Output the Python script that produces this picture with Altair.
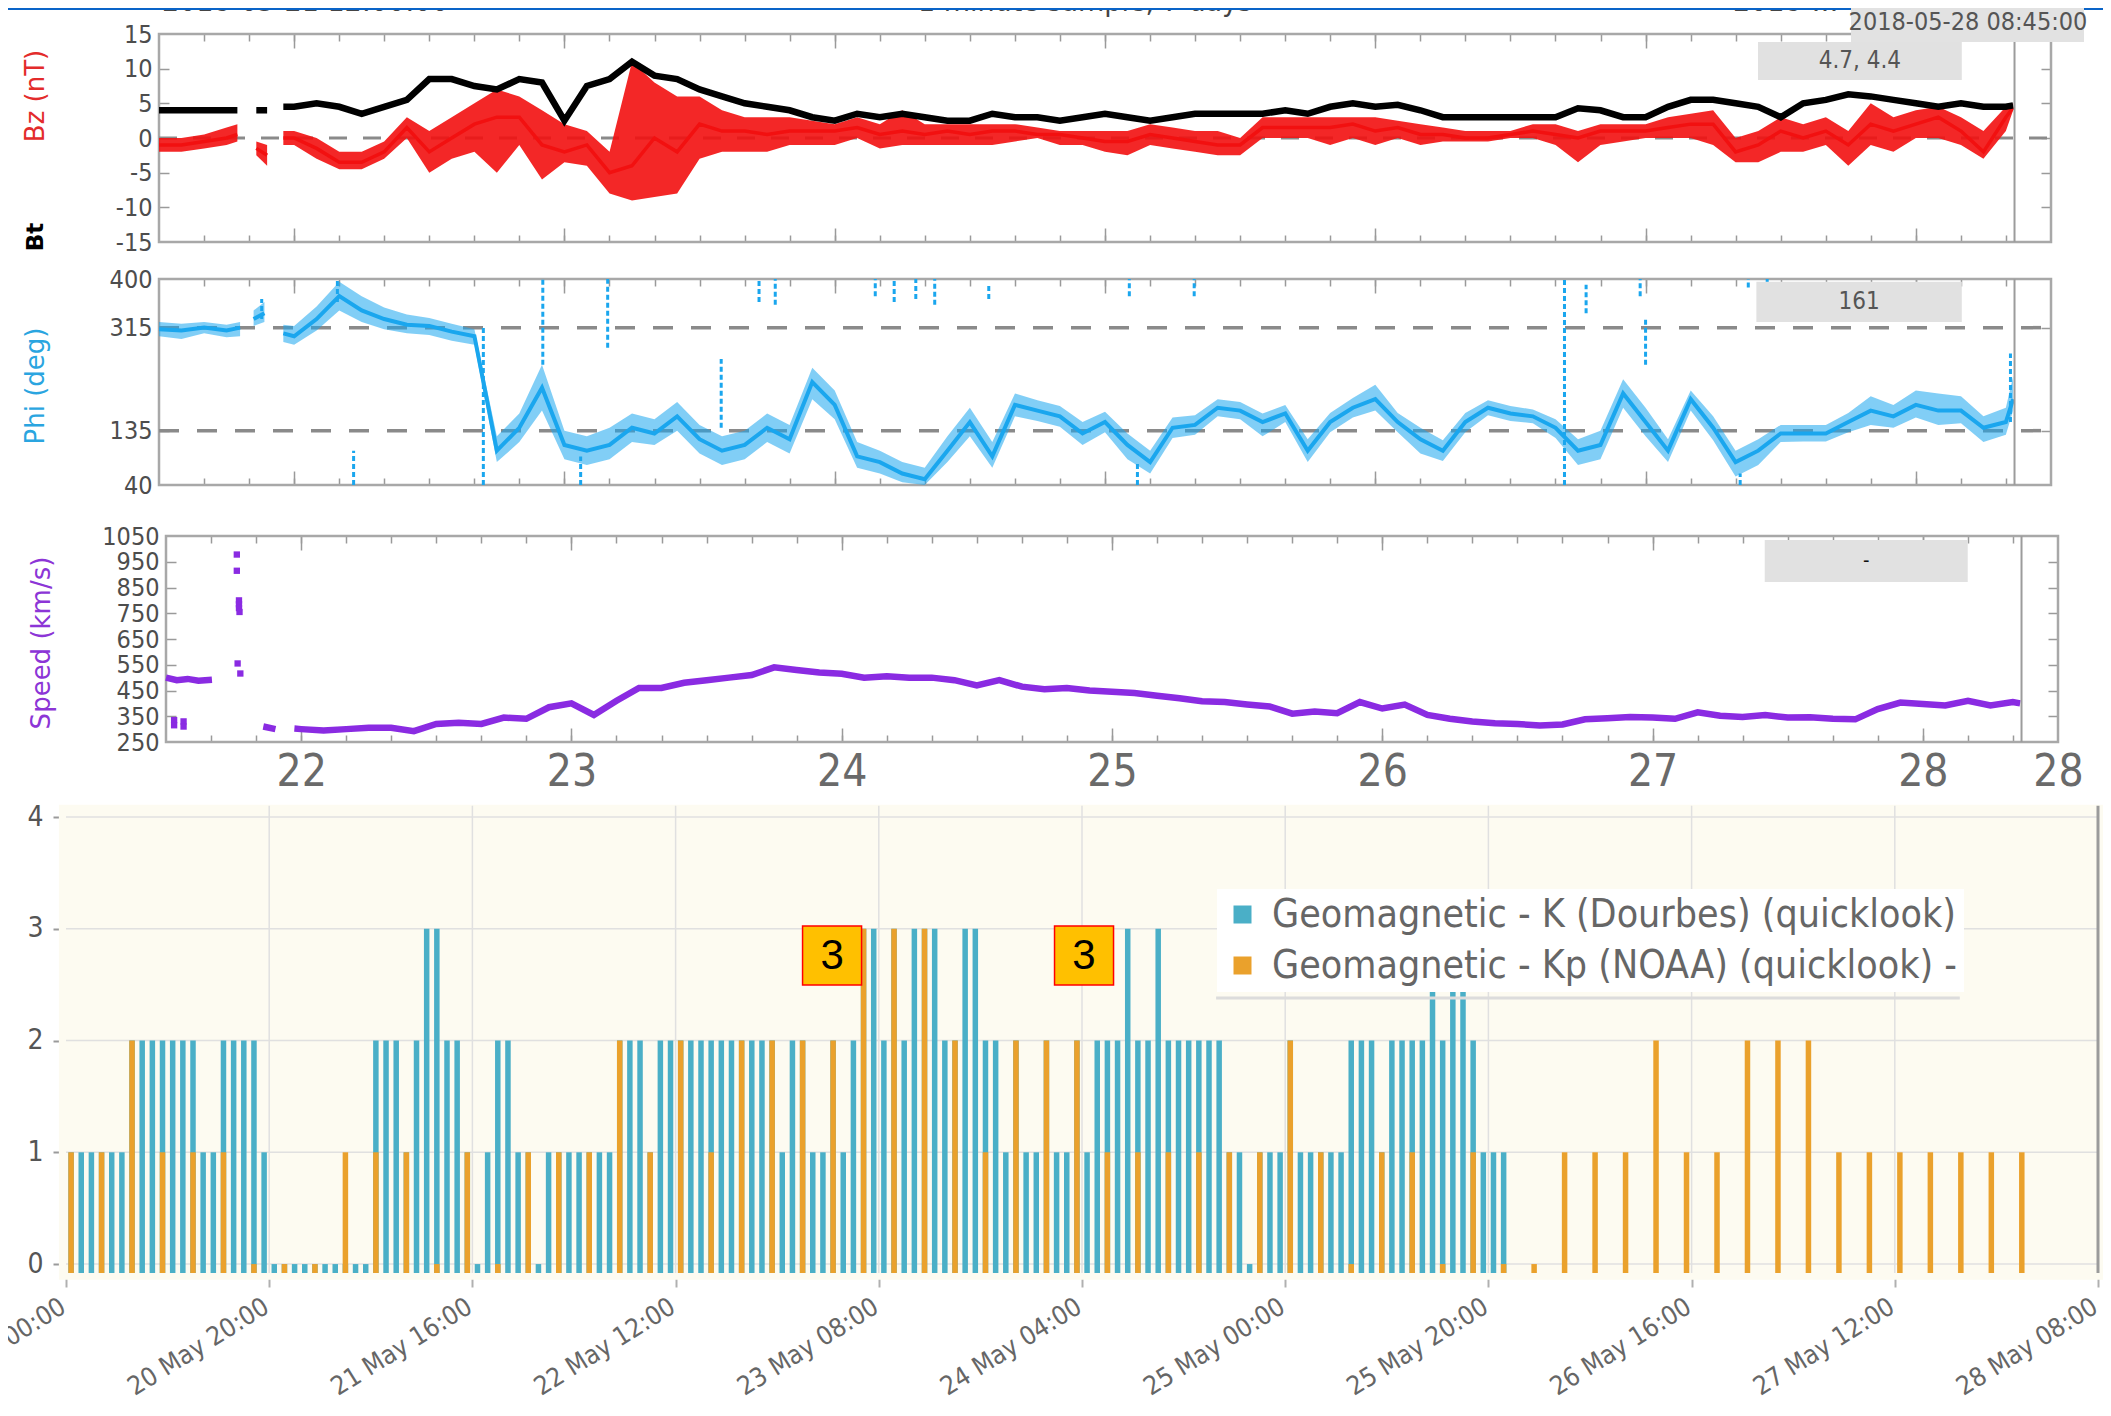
import json
import altair as alt
import pandas as pd

W, H = 2095, 1400
NARROW = "Liberation Sans Narrow, DejaVu Sans Condensed, Arial Narrow, sans-serif"
COND = "DejaVu Sans Condensed, Liberation Sans Narrow, sans-serif"
SANS = "DejaVu Sans, Verdana, sans-serif"

# ---------------- solar wind panels (time = day of May 2018) ----------------
GRID_2H = [round(22 + i / 12, 3) for i in range(77)]      # 22 May 00:00 ... 28 May 08:00 every 2 h
END_T = 28.36
TOP_DAY_TICKS = [22, 23, 24, 25, 26, 27, 28]
TOP_MINOR_TICKS = [round(21.5 + i / 6, 4) for i in range(1, 42)]
SPEED_X_LABEL_AT = [22, 23, 24, 25, 26, 27, 28, 28.5]
NOW_DAY = 28.365

# Bz / Bt (nT)
BZ_EARLY_T = [21.5, 21.583, 21.667, 21.75, 21.79, None, 21.86, 21.9, None, 21.96]
BZ_EARLY_MID = [-1, -1, -0.5, 0, 0.5, None, -1.5, -2.5, None, 0]
BZ_EARLY_LO = [-2, -2, -1.5, -1, -0.5, None, -2.5, -4, None, -1]
BZ_EARLY_HI = [0, 0, 0.5, 1.5, 2, None, -0.5, -1, None, 1]
BT_EARLY = [4, 4, 4, 4, 4, None, 4, 4, None, 4.5]
BZ_MID = [
    0, -1.5, -3.5, -3.5, -2, 1.5, -2, 0, 2, 3, 3, -1,
    -2, -1, -5, -4, 0, -2, 2, 1, 1, 0.5, 1, 1,
    1, 1.5, 0.5, 1, 0.5, 1, 0.5, 1, 1, 0.5, 0.5, 0,
    -0.5, -0.5, 0.5, 0, -0.5, -1, -1, 1.5, 1.5, 1.5, 1.5, 2,
    1, 1.5, 0.5, 0.5, 0, 0, 0.5, 1, 0.5, 0, 1, 1,
    1, 1.5, 2, 2, -2, -1, 1, 0, 1, -1, 2, 1,
    2, 3, 1, -2, 3]
BZ_LO = [
    -1, -3, -4.5, -4.5, -3, 0, -5, -3, -2, -5, -1, -6,
    -3.5, -4, -8, -9, -8.5, -8, -3, -2, -2, -2, -1, -1,
    -1, 0, -1.5, -1, -1, -1, -1, -1, -0.5, 0, -1, -1,
    -2, -2.5, -1, -1.5, -2, -2.5, -2.5, 0, 0, 0, -1, 0,
    -1, 0, -1, -0.5, -0.5, -0.5, 0, 0, -1, -3.5, -1, -0.5,
    0, 0, 0, -1, -3.5, -3.5, -2, -2, -1, -4, -1, -2,
    0, 0, -1, -3, 1]
BZ_HI = [
    1, 0, -2, -2, -0.5, 3, 1, 3, 5, 7, 6, 4,
    2, 1, -2, 11, 8, 6, 6, 4, 3, 3, 3, 2.5,
    2, 3, 2, 4, 2, 2, 2, 2, 2, 1.5, 1, 1,
    1, 1, 2, 1.5, 1, 1, 0, 3, 3, 3, 3, 3,
    3, 2.5, 2, 1.5, 1, 1, 1, 2, 2, 1, 2, 2,
    2, 3, 3.5, 4, 0, 1, 3, 2, 3, 1, 5, 3,
    4, 4.5, 3, 1, 4.5]
BT = [
    4.5, 5, 4.5, 3.5, 4.5, 5.5, 8.5, 8.5, 7.5, 7, 8.5, 8,
    2.5, 7.5, 8.5, 11, 9, 8.5, 7, 6, 5, 4.5, 4, 3,
    2.5, 3.5, 3, 3.5, 3, 2.5, 2.5, 3.5, 3, 3, 2.5, 3,
    3.5, 3, 2.5, 3, 3.5, 3.5, 3.5, 3.5, 4, 3.5, 4.5, 5,
    4.5, 4.8, 4, 3, 3, 3, 3, 3, 3, 4.3, 4, 3,
    3, 4.5, 5.5, 5.5, 5, 4.5, 3, 5, 5.5, 6.3, 6, 5.5,
    5, 4.5, 5, 4.5, 4.5]
BZ_END, BZ_END_LO, BZ_END_HI, BT_END = 4.4, 4.0, 5.0, 4.7
BZ_READOUT = "4.7, 4.4"

# Phi (deg)
PHI_EARLY_T = [21.5, 21.583, 21.667, 21.75, 21.8, None, 21.85, 21.89, None, 21.96]
PHI_EARLY = [312, 310, 315, 310, 315, None, 330, 340, None, 305]
PHI_EARLY_LO = [300, 295, 305, 298, 300, None, 318, 325, None, 290]
PHI_EARLY_HI = [325, 322, 325, 320, 325, None, 345, 360, None, 320]
PHI = [
    300, 330, 370, 345, 330, 320, 318, 308, 300, 100, 140, 210,
    110, 100, 110, 140, 130, 160, 120, 100, 110, 140, 120, 220,
    180, 90, 80, 60, 50, 100, 150, 90, 180, 170, 160, 130,
    150, 110, 80, 140, 145, 175, 170, 150, 165, 100, 150, 175,
    190, 150, 120, 100, 150, 175, 165, 160, 140, 100, 110, 200,
    150, 100, 190, 140, 80, 100, 130, 130, 130, 150, 170, 160,
    180, 170, 170, 140, 150]
PHI_LO = [
    285, 310, 345, 325, 312, 305, 302, 292, 285, 80, 115, 170,
    85, 75, 85, 115, 110, 135, 95, 75, 85, 115, 95, 190,
    155, 70, 60, 45, 40, 80, 125, 70, 160, 152, 142, 110,
    132, 85, 60, 122, 128, 160, 155, 125, 150, 80, 132, 158,
    170, 132, 95, 82, 132, 162, 152, 148, 122, 75, 85, 175,
    125, 80, 170, 118, 55, 75, 115, 116, 116, 132, 145, 140,
    158, 145, 148, 115, 128]
PHI_HI = [
    318, 352, 395, 370, 350, 338, 332, 322, 312, 125, 165, 250,
    135, 125, 140, 165, 155, 185, 145, 125, 135, 165, 145, 245,
    205, 115, 100, 80, 70, 125, 175, 115, 200, 188, 178, 150,
    168, 130, 100, 158, 162, 190, 185, 165, 180, 120, 166, 192,
    215, 166, 140, 118, 166, 188, 178, 172, 155, 120, 135, 225,
    175, 120, 205, 160, 100, 120, 145, 145, 145, 166, 195, 180,
    205, 200, 195, 160, 175]
PHI_END, PHI_END_LO, PHI_END_HI = 190, 170, 230
PHI_STREAK_T = [21.88, 22.16, 22.22, 22.7, 22.92, 23.06, 23.16, 23.58, 23.72, 23.78, 24.15, 24.22, 24.3,
                24.37, 24.57, 25.09, 25.12, 25.33, 26.7, 26.78, 26.98, 27.0, 27.35, 27.38, 27.45, 28.35]
PHI_STREAK_LO = [330, 360, 40, 40, 250, 40, 280, 140, 360, 355, 370, 360, 365,
                 355, 365, 370, 40, 370, 40, 340, 370, 250, 40, 385, 380, 150]
PHI_STREAK_HI = [365, 400, 100, 315, 400, 90, 400, 260, 400, 400, 400, 400, 400,
                 400, 390, 400, 80, 400, 400, 390, 400, 330, 60, 400, 400, 270]
PHI_READOUT = "161"

# Speed (km/s)
SPD_EARLY_T = [21.5, 21.54, 21.58, 21.62, 21.67, None, 21.86, 21.905, None, 21.975]
SPD_EARLY = [500, 490, 495, 488, 492, None, 310, 300, None, 302]
SPD = [
    300, 295, 300, 305, 305, 292, 320, 325, 320, 345, 340, 385,
    400, 355, 410, 460, 460, 480, 490, 500, 510, 540, 530, 520,
    515, 500, 505, 500, 500, 490, 470, 490, 465, 455, 460, 450,
    445, 440, 430, 420, 408, 405, 396, 388, 360, 368, 362, 405,
    380, 395, 355, 340, 330, 323, 320, 314, 318, 338, 342, 347,
    345, 340, 365, 352, 347, 355, 345, 346, 340, 338, 378, 403,
    398, 392, 410, 392, 405]
SPD_END = 400
SPD_PT_T = [21.53, 21.53, 21.565, 21.565, 21.762, 21.762, 21.77, 21.77, 21.77, 21.772, 21.765, 21.775]
SPD_PT_V = [335, 315, 330, 310, 978, 915, 800, 785, 770, 755, 555, 516]
SPD_READOUT = "-"

# ---------------- geomagnetic indices (hours since 20 May 00:00) ----------------
K_LABEL = "Geomagnetic - K (Dourbes) (quicklook)"
KP_LABEL = "Geomagnetic - Kp (NOAA) (quicklook) -"
K_DOURBES = [
    1, 1, 1, 1, 1, 1, 2, 2, 2, 2, 2, 2,
    2, 1, 1, 2, 2, 2, 2, 1, 0, 0, 0, 0,
    0, 0, 0, 0, 0, 0, 2, 2, 2, 1, 2, 3,
    3, 2, 2, 1, 0, 1, 2, 2, 1, 1, 0, 1,
    1, 1, 1, 1, 1, 1, 2, 2, 2, 1, 2, 2,
    2, 2, 2, 2, 2, 2, 2, 2, 2, 2, 1, 2,
    2, 1, 1, 2, 1, 2, 3, 3, 2, 3, 2, 3,
    3, 3, 2, 2, 3, 3, 2, 2, 1, 2, 1, 1,
    2, 1, 1, 2, 1, 2, 2, 2, 3, 2, 2, 3,
    2, 2, 2, 2, 2, 2, 1, 1, 0, 1, 1, 1,
    2, 1, 1, 1, 1, 1, 2, 2, 2, 1, 2, 2,
    2, 2, 3, 2, 3, 3, 2, 1, 1, 1]
K_NOAA = [  # every 3 hours
    1, 1, 2, 1, 1, 1, 0, 0, 0, 1, 1, 1,
    0, 1, 0, 1, 1, 1, 2, 1, 2, 1, 2, 2,
    2, 2, 3, 3, 3, 2, 1, 2, 2, 2, 1, 1,
    1, 1, 1, 1, 2, 1, 0, 1, 1, 0, 1, 0,
    0, 1, 1, 1, 2, 1, 1, 2, 2, 2, 1, 1,
    1, 1, 1, 1, 1]
K_TICK_HOURS = [0, 20, 40, 60, 80, 100, 120, 140, 160, 180, 200]
K_TICK_LABELS = ["20 May 00:00", "20 May 20:00", "21 May 16:00", "22 May 12:00", "23 May 08:00",
                 "24 May 04:00", "25 May 00:00", "25 May 20:00", "26 May 16:00", "27 May 12:00",
                 "28 May 08:00"]
K_Y_TICKS = [0, 1, 2, 3, 4]
ANN_H = [75.4, 100.2]
ANN_V = [2.76, 2.76]
ANN_TXT = ["3", "3"]

# ---------------- colours ----------------
BZ_RED = "#f21010"
PHI_BLUE = "#1aa6ee"
SPD_PURPLE = "#8a2be2"
TEAL = "#4aafc7"
ORANGE = "#eaa12c"
TICK_C = "#9a9a9a"

# ---------------- scales (pixel ranges inside the single canvas) ----------------
X_TOP = alt.Scale(domain=[21.5, 28.5], range=[151, 2043], nice=False, zero=False)
X_SPD = alt.Scale(domain=[21.5, 28.5], range=[158, 2050], nice=False, zero=False)
Y_BZ = alt.Scale(domain=[-15, 15], range=[234, 26], nice=False, zero=False)
Y_PHI = alt.Scale(domain=[40, 400], range=[477, 271], nice=False, zero=False)
Y_SPD = alt.Scale(domain=[250, 1050], range=[734, 528], nice=False, zero=False)
X_K = alt.Scale(domain=[0, 200], range=[53, 2095], nice=False, zero=False)
Y_K_MIN = -0.08
Y_K = alt.Scale(domain=[Y_K_MIN, 4], range=[1265, 809], nice=False, zero=False)

ONE = pd.DataFrame({"_": [0]})


def seg_df(t_list, **cols):
    rows, seg = [], 0
    for i, tv in enumerate(t_list):
        if tv is None:
            seg += 1
            continue
        row = {"t": tv, "seg": seg}
        for name, vals in cols.items():
            row[name] = vals[i]
        rows.append(row)
    return pd.DataFrame(rows)


def one_row(**kw):
    return pd.DataFrame({k: [v] for k, v in kw.items()})


def qx(field, sc, ax=None):
    return alt.X(field, type="quantitative", scale=sc, axis=ax)


def qy(field, sc, ax=None):
    return alt.Y(field, type="quantitative", scale=sc, axis=ax, stack=None)


def frame_layer(xs, ys, x0, x1, y0, y1, color="#a8a8a8", width=2.5):
    return alt.Chart(one_row(x0=x0, x1=x1, y0=y0, y1=y1)).mark_rect(
        fillOpacity=0, stroke=color, strokeWidth=width).encode(
        x=qx("x0", xs), x2="x1:Q", y=qy("y0", ys), y2="y1:Q")


def hrule(xs, ys, x0, x1, yvals, **mk):
    d = pd.DataFrame({"x0": [x0] * len(yvals), "x1": [x1] * len(yvals), "y": yvals})
    return alt.Chart(d).mark_rule(**mk).encode(x=qx("x0", xs), x2="x1:Q", y=qy("y", ys))


def vrule(xs, ys, xvals, y0, y1, **mk):
    d = pd.DataFrame({"x": xvals, "y0": [y0] * len(xvals), "y1": [y1] * len(xvals)})
    return alt.Chart(d).mark_rule(**mk).encode(x=qx("x", xs), y=qy("y0", ys), y2="y1:Q")


def readout(xs, ys, x0, x1, y0, y1, txt, size=24, color="#555555"):
    box = alt.Chart(one_row(x0=x0, x1=x1, y0=y0, y1=y1)).mark_rect(
        fill="#e1e1e1", strokeWidth=0).encode(x=qx("x0", xs), x2="x1:Q", y=qy("y0", ys), y2="y1:Q")
    txt_l = alt.Chart(one_row(x=(x0 + x1) / 2, y=(y0 + y1) / 2, s=txt)).mark_text(
        fontSize=size, font=NARROW, color=color).encode(x=qx("x", xs), y=qy("y", ys), text="s:N")
    return [box, txt_l]


def tick_axis(orient, offset, values, size):
    return alt.Axis(orient=orient, offset=offset, values=values, ticks=True, tickSize=size,
                    tickColor=TICK_C, tickWidth=1.5, labels=False, domain=False, grid=False, title=None)


def frame_axes(xs, ys, xdom0, ydom0, left, right, top, bottom, ylabel_vals, ytick_vals):
    d = one_row(cx=xdom0, cy=ydom0)

    def car(xa, ya):
        return alt.Chart(d).mark_point(opacity=0).encode(x=qx("cx", xs, xa), y=qy("cy", ys, ya))

    lab = alt.Axis(orient="left", offset=-left, values=ylabel_vals, ticks=False, tickSize=0,
                   domain=False, grid=False, title=None, labelFont=NARROW, labelFontSize=25,
                   labelColor="#4d4d4d", labelPadding=7, labelExpr="'' + datum.value",
                   labelOverlap=False)
    return [
        car(tick_axis("bottom", top - H, TOP_MINOR_TICKS, 7), lab),
        car(tick_axis("bottom", top - H, TOP_DAY_TICKS, 14), tick_axis("right", left - W, ytick_vals, 10)),
        car(tick_axis("top", -bottom, TOP_MINOR_TICKS, 7), tick_axis("left", -right, ytick_vals, 10)),
        car(tick_axis("top", -bottom, TOP_DAY_TICKS, 14), None),
    ]


# ---------------- Bz / Bt panel ----------------
bz_df = seg_df(BZ_EARLY_T + GRID_2H + [END_T],
               v=BZ_EARLY_MID + BZ_MID + [BZ_END],
               lo=BZ_EARLY_LO + BZ_LO + [BZ_END_LO],
               hi=BZ_EARLY_HI + BZ_HI + [BZ_END_HI])
bt_df = seg_df(BZ_EARLY_T + GRID_2H + [END_T], v=BT_EARLY + BT + [BT_END])

bz_panel = alt.layer(
    frame_layer(X_TOP, Y_BZ, 21.5, 28.5, -15, 15),
    hrule(X_TOP, Y_BZ, 21.5, 28.5, [0], color="#8a8a8a", strokeWidth=3, strokeDash=[18, 16]),
    alt.Chart(bz_df).mark_area(color=BZ_RED, opacity=0.9).encode(
        x=qx("t", X_TOP), y=qy("lo", Y_BZ), y2="hi:Q", detail="seg:N"),
    alt.Chart(bz_df).mark_line(color=BZ_RED, strokeWidth=3.5).encode(
        x=qx("t", X_TOP), y=qy("v", Y_BZ), detail="seg:N"),
    alt.Chart(bt_df).mark_line(color="black", strokeWidth=6.5).encode(
        x=qx("t", X_TOP), y=qy("v", Y_BZ), detail="seg:N"),
    vrule(X_TOP, Y_BZ, [NOW_DAY], -15, 15, color="#9c9c9c", strokeWidth=2),
    *readout(X_TOP, Y_BZ, 27.416, 28.17, 8.37, 13.85, BZ_READOUT),
    *frame_axes(X_TOP, Y_BZ, 21.5, -15, 151, 2043, 26, 234,
                [15, 10, 5, 0, -5, -10, -15], [10, 5, 0, -5, -10]),
).resolve_axis(x="independent", y="independent")

# ---------------- Phi panel ----------------
phi_df = seg_df(PHI_EARLY_T + GRID_2H + [END_T],
                v=PHI_EARLY + PHI + [PHI_END],
                lo=PHI_EARLY_LO + PHI_LO + [PHI_END_LO],
                hi=PHI_EARLY_HI + PHI_HI + [PHI_END_HI])
phi_streak_df = pd.DataFrame({"t": PHI_STREAK_T, "lo": PHI_STREAK_LO, "hi": PHI_STREAK_HI})

phi_panel = alt.layer(
    frame_layer(X_TOP, Y_PHI, 21.5, 28.5, 40, 400),
    hrule(X_TOP, Y_PHI, 21.5, 28.5, [315, 135], color="#8a8a8a", strokeWidth=3.5, strokeDash=[20, 18]),
    alt.Chart(phi_df).mark_area(color=PHI_BLUE, opacity=0.55).encode(
        x=qx("t", X_TOP), y=qy("lo", Y_PHI), y2="hi:Q", detail="seg:N"),
    alt.Chart(phi_df).mark_line(color=PHI_BLUE, strokeWidth=4).encode(
        x=qx("t", X_TOP), y=qy("v", Y_PHI), detail="seg:N"),
    alt.Chart(phi_streak_df).mark_rule(color=PHI_BLUE, strokeWidth=3, strokeDash=[5, 3]).encode(
        x=qx("t", X_TOP), y=qy("lo", Y_PHI), y2="hi:Q"),
    vrule(X_TOP, Y_PHI, [NOW_DAY], 40, 400, color="#9c9c9c", strokeWidth=2),
    *readout(X_TOP, Y_PHI, 27.41, 28.17, 325, 395, PHI_READOUT),
    *frame_axes(X_TOP, Y_PHI, 21.5, 40, 151, 2043, 271, 477, [400, 315, 135, 40], [315, 135]),
).resolve_axis(x="independent", y="independent")

# ---------------- Speed panel ----------------
spd_df = seg_df(SPD_EARLY_T + GRID_2H + [END_T], v=SPD_EARLY + SPD + [SPD_END])
spd_pt_df = pd.DataFrame({"t": SPD_PT_T, "v": SPD_PT_V})
spd_xlab = alt.Axis(orient="bottom", offset=734 - H, values=SPEED_X_LABEL_AT, ticks=False, tickSize=0,
                    domain=False, grid=False, title=None, labelExpr="'' + floor(datum.value)",
                    labelFont=NARROW, labelFontSize=44, labelColor="#6a6a6a", labelPadding=8,
                    labelFlush=False, labelOverlap=False)

spd_panel = alt.layer(
    frame_layer(X_SPD, Y_SPD, 21.5, 28.5, 250, 1050),
    alt.Chart(spd_df).mark_line(color=SPD_PURPLE, strokeWidth=6.5).encode(
        x=qx("t", X_SPD), y=qy("v", Y_SPD), detail="seg:N"),
    alt.Chart(spd_pt_df).mark_square(color=SPD_PURPLE, size=40, opacity=1).encode(
        x=qx("t", X_SPD), y=qy("v", Y_SPD)),
    vrule(X_SPD, Y_SPD, [NOW_DAY], 250, 1050, color="#9c9c9c", strokeWidth=2),
    *readout(X_SPD, Y_SPD, 27.415, 28.166, 871, 1034, SPD_READOUT, size=20, color="#111111"),
    *frame_axes(X_SPD, Y_SPD, 21.5, 250, 158, 2050, 528, 734,
                [1050, 950, 850, 750, 650, 550, 450, 350, 250], [950, 850, 750, 650, 550, 450, 350]),
    alt.Chart(one_row(cx=21.5, cy=250)).mark_point(opacity=0).encode(
        x=qx("cx", X_SPD, spd_xlab), y=qy("cy", Y_SPD)),
).resolve_axis(x="independent", y="independent")

# ---------------- K index bar chart ----------------
teal_df = pd.DataFrame({"x": [k + 0.5 for k in range(len(K_DOURBES))], "v": K_DOURBES,
                        "series": [K_LABEL] * len(K_DOURBES)})
orange_df = pd.DataFrame({"x": [3 * i + 0.5 for i in range(len(K_NOAA))], "v": K_NOAA,
                          "series": [KP_LABEL] * len(K_NOAA)})
ann_df = pd.DataFrame({"h": ANN_H, "v": ANN_V, "s": ANN_TXT})

color_enc = alt.Color("series:N", scale=alt.Scale(domain=[K_LABEL, KP_LABEL], range=[TEAL, ORANGE]),
                      legend=alt.Legend(orient="none", legendX=1209, legendY=881, title=None,
                                        symbolType="square", symbolSize=324, symbolStrokeWidth=0,
                                        labelFont=COND, labelFontSize=39, labelColor="#666666",
                                        labelLimit=2000, rowPadding=11, labelOffset=10, padding=6,
                                        fillColor="white"))
k_xaxis = alt.Axis(orient="bottom", offset=1267 - H, values=K_TICK_HOURS, tickSize=12, tickColor="#b0b0b0",
                   tickWidth=2, domain=True, domainColor="#a9a9a9", domainWidth=3, grid=False, title=None,
                   labelExpr=json.dumps(K_TICK_LABELS) + "[round(datum.value / 20)]",
                   labelAngle=328, labelAlign="right", labelBaseline="top", labelPadding=6,
                   labelOffset=-10, labelFont=COND, labelFontSize=26, labelColor="#666666",
                   labelOverlap=False, labelFlush=False)
k_yaxis = alt.Axis(orient="left", offset=-53, values=K_Y_TICKS, tickSize=8, tickColor="#9a9a9a",
                   tickWidth=2, domain=True, domainColor="#9a9a9a", domainWidth=2, grid=False, title=None,
                   labelFont=COND, labelFontSize=28, labelColor="#555555", labelPadding=10)

k_panel = alt.layer(
    alt.Chart(one_row(x0=-0.7, x1=201, y0=-0.14, y1=4.11)).mark_rect(fill="#fdfbf1", strokeWidth=0).encode(
        x=qx("x0", X_K), x2="x1:Q", y=qy("y0", Y_K), y2="y1:Q"),
    hrule(X_K, Y_K, 0, 200, K_Y_TICKS, color="#e0e0e0", strokeWidth=1.5),
    vrule(X_K, Y_K, K_TICK_HOURS[1:-1], Y_K_MIN, 4.1, color="#e0e0e0", strokeWidth=1.5),
    alt.Chart(teal_df).mark_bar(size=5.5).encode(
        x=qx("x", X_K), y=qy("v", Y_K), y2=alt.datum(Y_K_MIN), color=color_enc),
    alt.Chart(orange_df).mark_bar(size=5.5).encode(
        x=qx("x", X_K), y=qy("v", Y_K), y2=alt.datum(Y_K_MIN), color=color_enc),
    vrule(X_K, Y_K, [200], Y_K_MIN, 4.1, color="#9b9b9b", strokeWidth=3),
    hrule(X_K, Y_K, 113.2, 186.4, [2.38], color="#dcdcdc", strokeWidth=3),
    alt.Chart(ann_df).mark_square(size=3481, fill="#FFC000", stroke="#ff0000", strokeWidth=1.5,
                                  opacity=1).encode(x=qx("h", X_K), y=qy("v", Y_K)),
    alt.Chart(ann_df).mark_text(fontSize=42, font="Liberation Sans, Arial, sans-serif", color="black").encode(
        x=qx("h", X_K), y=qy("v", Y_K), text="s:N"),
    alt.Chart(one_row(cx=0, cy=0)).mark_point(opacity=0).encode(
        x=qx("cx", X_K, k_xaxis), y=qy("cy", Y_K, k_yaxis)),
).resolve_axis(x="independent", y="independent")


# ---------------- page decorations (titles, bands) ----------------
def deco_text(txt, x, y, **mk):
    return alt.Chart(ONE).mark_text(**mk).encode(x=alt.value(x), y=alt.value(y), text=alt.value(txt))


def deco_rect(x0, x1, y0, y1, color):
    return alt.Chart(ONE).mark_rect(fill=color, strokeWidth=0).encode(
        x=alt.value(x0), x2=alt.value(x1), y=alt.value(y0), y2=alt.value(y1))


decos = [
    deco_text("2018-05-21 12:00:00", 154, 9, align="left", baseline="bottom", fontSize=30, font=NARROW,
              color="#444444"),
    deco_text("1 minute sample, 7 days", 1077, 9, align="center", baseline="bottom", fontSize=30, font=NARROW,
              color="#444444"),
    deco_text("2018-05-28 12:00:00", 1725, 9, align="left", baseline="bottom", fontSize=30, font=NARROW,
              color="#444444", limit=116, ellipsis=""),
    deco_rect(0, W, 0, 2, "#0a64c8"),
    deco_rect(1843, 2076, 0, 34, "#e2e2e2"),
    deco_text("2018-05-28 08:45:00", 1960, 14, align="center", baseline="middle", fontSize=25, font=NARROW,
              color="#555555"),
    deco_text("Bz (nT)", 28, 88, angle=270, align="center", baseline="middle", fontSize=26, font=SANS,
              color="#e32b2b"),
    deco_text("Bt", 28, 229, angle=270, align="center", baseline="middle", fontSize=23, font=SANS,
              color="black", fontWeight="bold"),
    deco_text("Phi (deg)", 28, 378, angle=270, align="center", baseline="middle", fontSize=26, font=SANS,
              color="#2aa5e0"),
    deco_text("Speed (km/s)", 34, 635, angle=270, align="center", baseline="middle", fontSize=26, font=SANS,
              color="#8c35d6"),
]

chart = alt.layer(k_panel, bz_panel, phi_panel, spd_panel, *decos).resolve_scale(
    x="independent", y="independent"
).properties(
    width=W, height=H, autosize=alt.AutoSizeParams(type="none"), padding=0, background="white"
).configure_view(stroke=None)

chart.save("out.html", embed_options={"renderer": "svg", "actions": False})
